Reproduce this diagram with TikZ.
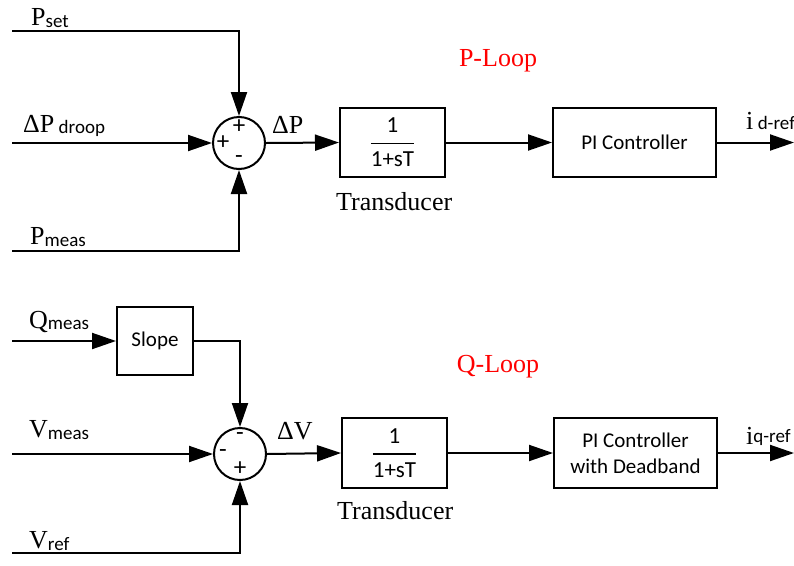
\documentclass[tikz,border=0pt]{standalone}
\usepackage{amsmath}
\usepackage{fontspec}
\setmainfont{Liberation Serif}
\newfontfamily\calfont{Carlito}
\usetikzlibrary{arrows.meta}
\tikzset{
  wire/.style={line width=2pt},
  arr/.style={wire,-{Triangle[length=24pt,width=16pt]}},
  blk/.style={draw,line width=2pt,inner sep=0pt,font=\calfont\fontsize{21}{26}\selectfont,align=center},
  fracn/.style={inner sep=0pt,font=\calfont\fontsize{23}{23}\selectfont},
  sumc/.style={draw,circle,line width=2pt,minimum size=52pt,inner sep=0pt},
  lbl/.style={inner sep=0pt,anchor=base west,font=\fontsize{26}{26}\selectfont},
  sg/.style={inner sep=0pt,font=\calfont\fontsize{25}{25}\selectfont},
  loop/.style={inner sep=0pt,text=red,font=\fontsize{26}{26}\selectfont},
}
\newcommand{\sbs}[2][-3pt]{\raisebox{#1}{\calfont\fontsize{19}{19}\selectfont #2}}
\newcommand{\trfrac}{$\displaystyle\genfrac{}{}{1.6pt}{0}{\hbox{1}}{\hbox{1+sT}}$}
\begin{document}
\begin{tikzpicture}[x=1pt,y=-1pt]
\useasboundingbox (0,0) rectangle (794,565);
% ---------- P loop ----------
\node[sumc] (s1) at (239,143) {};
\node[sg] (s1t) at (239,127) {+};
\node[sg] (s1l) at (223,143) {+};
\node[sg] (s1b) at (239,160) {-};
\coordinate (pset0) at (12,31);
\coordinate (pdr0) at (12,143);
\coordinate (pme0) at (12,251);
\coordinate (c1) at (239,31);
\coordinate (c2) at (239,251);
\draw[arr] (pset0) -- (c1) -- (s1.north);
\draw[arr] (pdr0) -- (s1.west);
\draw[arr] (pme0) -- (c2) -- (s1.south);
\node[blk,minimum width=105pt,minimum height=69pt] (t1) at (392.5,142.5) {};
\node[fracn] (f1) at (t1.center) {\trfrac};
\node[blk,minimum width=163pt,minimum height=69pt] (pi1) at (634.5,142.5) {PI Controller};
\coordinate (o1) at (794,142.5);
\draw[arr] (s1.east) -- (t1.west);
\draw[arr] (t1.east) -- (pi1.west);
\draw[arr] (pi1.east) -- (o1);
\node[lbl] (lpset) at (31,25) {P\sbs[-2pt]{set}};
\node[lbl] (lpdr) at (23,132) {ΔP\,\sbs[-1pt]{droop}};
\node[lbl] (lpme) at (30,244) {P\sbs[-2pt]{meas}};
\node[lbl] (ldp) at (272,133) {ΔP};
\node[lbl] (ltr1) at (336,210) {Transducer};
\node[loop] (pl) at (498,61) {P-Loop};
\node[lbl] (lid) at (746,129) {i\,\sbs[0pt]{d-ref}};
% ---------- Q loop ----------
\node[sumc] (s2) at (240,454) {};
\node[sg] (s2t) at (240,437) {-};
\node[sg] (s2l) at (223,454) {-};
\node[sg] (s2b) at (240,469) {+};
\node[blk,minimum width=76pt,minimum height=68pt] (sl) at (155,341) {Slope};
\coordinate (qme0) at (12,341);
\coordinate (vme0) at (12,454);
\coordinate (vre0) at (12,553);
\coordinate (c3) at (240,341);
\coordinate (c4) at (240,553);
\draw[arr] (qme0) -- (sl.west);
\draw[arr] (sl.east) -- (c3) -- (s2.north);
\draw[arr] (vme0) -- (s2.west);
\draw[arr] (vre0) -- (c4) -- (s2.south);
\node[blk,minimum width=105pt,minimum height=70pt] (t2) at (394.5,453) {};
\node[fracn] (f2) at (t2.center) {\trfrac};
\node[blk,minimum width=163pt,minimum height=70pt] (pi2) at (635.5,453) {PI Controller\\with Deadband};
\coordinate (o2) at (794,453);
\draw[arr] (s2.east) -- (t2.west);
\draw[arr] (t2.east) -- (pi2.west);
\draw[arr] (pi2.east) -- (o2);
\node[lbl] (lqme) at (29,328) {Q\sbs[-1pt]{meas}};
\node[lbl] (lvme) at (29,437) {V\sbs[-2pt]{meas}};
\node[lbl] (lvre) at (29,548) {V\sbs[-2pt]{ref}};
\node[lbl] (ldv) at (277,439) {ΔV};
\node[lbl] (ltr2) at (337,519) {Transducer};
\node[loop] (ql) at (498,367) {Q-Loop};
\node[lbl] (liq) at (746,444) {i\sbs[2pt]{q-ref}};
\end{tikzpicture}
\end{document}
